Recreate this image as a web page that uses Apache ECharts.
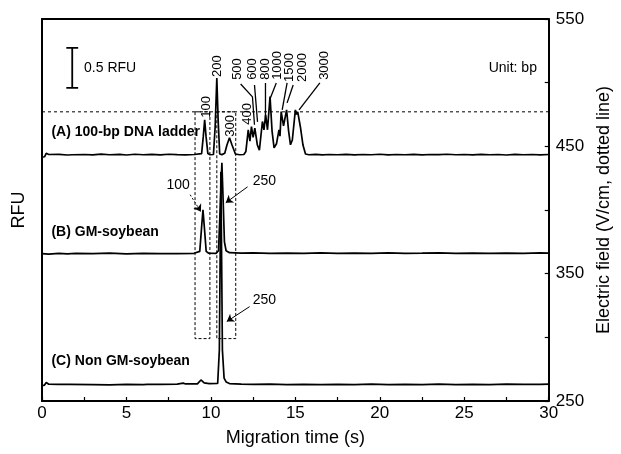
<!DOCTYPE html>
<html><head><meta charset="utf-8">
<script src="https://cdn.jsdelivr.net/npm/echarts@6/dist/echarts.min.js"></script>
<style>html,body{margin:0;padding:0;background:#fff}#c{width:621px;height:454px}</style>
</head><body><div id="c"></div>
<script>
// ---- data (time in s, signal in right-axis units) ----
const traceA = [[0,441.5],[0.15,441.8],[0.25,444.5],[0.4,443.6],[1,443.7],[1.5,443.2],[1.6,444.3],[1.8,443.4],[2.5,443.6],[3,443.3],[3.5,443.9],[4,443.4],[4.6,443.7],[5,443.2],[5.5,443.8],[6,443.4],[6.5,443.7],[7,443.3],[7.5,443.8],[8,443.5],[8.5,443.3],[9,443.6],[9.45,444.3],[9.55,458],[9.63,470.8],[9.71,458],[9.82,444.3],[9.95,443.4],[10.15,443.6],[10.25,465],[10.35,503.7],[10.43,470],[10.52,444],[10.65,443.5],[10.82,444.5],[10.95,451],[11.1,456.7],[11.25,451],[11.45,444],[11.7,443.4],[11.95,443.6],[12.07,446],[12.21,462.9],[12.31,454],[12.4,465.5],[12.5,457],[12.6,464.3],[12.75,451],[12.87,447],[13.05,469.5],[13.14,463],[13.24,474.7],[13.35,463],[13.5,489],[13.62,462],[13.74,448.8],[13.88,452],[14.03,462.9],[14.09,458],[14.16,477.3],[14.3,466],[14.48,478.6],[14.6,462],[14.71,451.2],[14.82,455],[15.0,478.6],[15.07,475],[15.14,477],[15.3,465],[15.45,451],[15.6,444],[15.8,443.4],[16.2,443.7],[16.6,443.3],[17,443.6],[17.5,443.4],[18,443.7],[18.5,443.3],[19,443.6],[19.5,443.4],[20,443.8],[20.5,443.3],[21,443.6],[21.5,443.4],[22,443.7],[22.5,443.3],[23,443.6],[23.5,443.5],[24,443.8],[24.5,443.4],[25,443.6],[25.5,443.3],[26,443.7],[26.5,443.4],[27,443.6],[27.5,443.2],[28,443.7],[28.5,443.4],[29,443.6],[29.5,443.3],[30,443.6]];
const traceB = [[0,365.7],[0.4,365.3],[1,366],[1.5,365.5],[2,365.9],[3,365.7],[4,366.1],[5,365.5],[6,365.9],[7,365.7],[8,365.8],[9,366],[9.34,367.5],[9.44,385],[9.53,400.2],[9.62,385],[9.72,367.5],[9.85,366.2],[10.3,365.9],[10.45,368],[10.56,405],[10.65,437],[10.73,405],[10.8,375],[10.9,368],[11.1,366.5],[11.8,366.1],[12.5,366.3],[13.5,365.9],[14.5,366.2],[15.5,366],[16.5,366.3],[17.5,365.9],[18.5,366.2],[19.5,366],[20.5,366.3],[21.5,365.9],[22.5,366.1],[23.5,366.4],[24.5,366],[25.5,366.2],[26.5,365.9],[27.5,366.2],[28.5,366],[29.5,366.3],[30,366.1]];
const traceC = [[0,262],[0.15,262.5],[0.25,264.5],[0.4,263.2],[1,263],[1.4,263.1],[1.51,264.2],[1.62,263.1],[3,262.9],[4,262.7],[5,263],[6,262.9],[6.11,264.3],[6.22,263.1],[7,263],[8,263.2],[8.36,264],[8.5,263.4],[9.2,263.4],[9.41,266.5],[9.6,264.2],[9.9,263.6],[10.4,263.8],[10.5,290],[10.59,430],[10.68,290],[10.78,268],[10.9,265],[11.1,263.7],[11.8,263.2],[12.5,263],[13.5,263.3],[14.5,262.9],[15.5,263.1],[16.5,262.8],[17.5,263.1],[18.5,262.9],[19.5,263.3],[20.5,262.9],[21.5,263.1],[22.5,262.8],[23.5,263.2],[24.5,262.9],[25.5,263.1],[26.5,262.9],[27.5,263.3],[28.5,263],[29.5,263.1],[30,263.3]];
const fieldLine = [[0,477.1],[30,477.1]];
const boxes = [
  [[9.06,477.1],[9.94,477.1],[9.94,299],[9.06,299],[9.06,477.1]],
  [[10.35,477.1],[11.47,477.1],[11.47,299],[10.35,299],[10.35,477.1]]
];
const ladderLabels = [["100",9.71,472.4],["200",10.41,504.5],["300",11.17,457.5],["400",12.17,466.9],["500",11.58,502.2],["600",12.46,502.2],["800",13.23,502.2],["1000",13.93,502.2],["1500",14.63,500.6],["2000",15.39,500.6],["3000",16.74,502.2]];
const leaders = [
  [[11.76,499],[12.46,488.8],[12.58,466.9]],
  [[12.58,498.2],[12.76,469.2]],
  [[13.23,499.8],[13.23,472.4]],
  [[13.87,499.8],[13.52,488]],
  [[14.51,499.8],[14.22,478.6]],
  [[14.87,498.2],[14.51,484.1]],
  [[16.45,499.8],[15.22,478.6]]
];
const arrows = [
  {coords:[[8.77,412],[9.41,398.6]], dashed:true},
  {coords:[[12.17,418.2],[10.88,405.7]], dashed:false},
  {coords:[[12.29,324.1],[10.94,312.4]], dashed:false}
];
const peakTexts = [["100",8.06,419.8],["250",13.17,422.9],["250",13.17,329.6]];
const traceTitles = [["(A) 100-bp DNA ladder",0.56,461.4],["(B) GM-soybean",0.56,382.9],["(C) Non GM-soybean",0.56,281]];
const scaleBar = [[1.44,527.3],[2.14,527.3],null,[1.79,527.3],[1.79,495.9],null,[1.44,495.9],[2.14,495.9]];
const notes = [["0.5 RFU",2.49,511.6,"left"],["Unit: bp",29.3,511.6,"right"]];
const xTicks = [0,5,10,15,20,25,30];
const rightTicks = [250,350,450,550];

// ---- chart ----
const FONT = "Liberation Sans, Arial, sans-serif";
const chart = echarts.init(document.getElementById('c'), null, {renderer:'canvas'});
const lineBase = {type:'line', showSymbol:false, symbol:'none', silent:true, animation:false, z:3};
const series = [];
[traceA, traceB, traceC].forEach(t => series.push(Object.assign({}, lineBase, {data:t, lineStyle:{color:'#000', width:1.7}})));
series.push(Object.assign({}, lineBase, {data:fieldLine, lineStyle:{color:'#000', width:1, type:[3,3]}}));
boxes.forEach(b => series.push(Object.assign({}, lineBase, {data:b, lineStyle:{color:'#000', width:1, type:[3,2]}})));
leaders.forEach(l => series.push(Object.assign({}, lineBase, {data:l, lineStyle:{color:'#000', width:1.3}})));
series.push(Object.assign({}, lineBase, {data:scaleBar, connectNulls:false, lineStyle:{color:'#000', width:1.8}}));
series.push({
  type:'lines', coordinateSystem:'cartesian2d', silent:true, animation:false, z:4,
  symbol:['none','arrow'], symbolSize:7,
  data: arrows.map(a => ({coords:a.coords, lineStyle:{type: a.dashed ? [2,2] : 'solid', color:'#000', opacity:1, width:1}})),
  lineStyle:{color:'#000', width:1, opacity:1}
});
function textSeries(items, labelFn){
  return {type:'scatter', symbolSize:0, silent:true, animation:false, z:5,
    itemStyle:{color:'#000', opacity:1},
    data: items.map(it => ({value:[it[1], it[2]], label: labelFn(it)})),
    label:{show:true}};
}
const txt = {show:true, position:'inside', color:'#000', opacity:1, fontFamily:FONT, fontSize:14, textBorderWidth:0, textBorderColor:'transparent', textShadowBlur:0};
series.push(textSeries(ladderLabels, it => Object.assign({}, txt, {formatter:it[0], rotate:90, align:'left', verticalAlign:'middle', fontSize:13})));
series.push(textSeries(peakTexts, it => Object.assign({}, txt, {formatter:it[0], align:'center', verticalAlign:'middle'})));
series.push(textSeries(traceTitles, it => Object.assign({}, txt, {formatter:it[0], align:'left', verticalAlign:'middle', fontWeight:'bold'})));
series.push(textSeries(notes, it => Object.assign({}, txt, {formatter:it[0], align:it[3], verticalAlign:'middle'})));

const axisLine = {show:true, onZero:false, lineStyle:{color:'#000', width:2}};
chart.setOption({
  animation:false,
  backgroundColor:'#fff',
  grid:{left:42, right:67, top:19, bottom:53, containLabel:false},
  xAxis:[
    {type:'value', min:0, max:30, interval:5, position:'bottom',
     axisLine, axisTick:{show:true, inside:true, length:4, lineStyle:{color:'#000', width:1.2}},
     minorTick:{show:true, splitNumber:2, length:4, lineStyle:{color:'#000', width:1.2}},
     splitLine:{show:false},
     axisLabel:{color:'#000', fontSize:17, fontFamily:FONT, margin:4,
       formatter: v => xTicks.indexOf(v) >= 0 ? String(v) : ''},
     name:'Migration time (s)', nameLocation:'middle', nameGap:28,
     nameTextStyle:{color:'#000', fontSize:18, fontFamily:FONT}},
    {type:'value', min:0, max:30, position:'top', axisLine,
     axisTick:{show:false}, axisLabel:{show:false}, splitLine:{show:false}}
  ],
  yAxis:[
    {type:'value', min:250, max:550, position:'left', axisLine,
     axisTick:{show:false}, axisLabel:{show:false}, splitLine:{show:false},
     name:'RFU', nameLocation:'middle', nameGap:14, nameRotate:90,
     nameTextStyle:{color:'#000', fontSize:18, fontFamily:FONT}},
    {type:'value', min:250, max:550, interval:100, position:'right', axisLine,
     axisTick:{show:true, inside:true, length:4, lineStyle:{color:'#000', width:1.2}},
     minorTick:{show:true, splitNumber:2, length:4, lineStyle:{color:'#000', width:1.2}},
     splitLine:{show:false},
     axisLabel:{color:'#000', fontSize:17, fontFamily:FONT, margin:7,
       formatter: v => rightTicks.indexOf(v) >= 0 ? String(v) : ''},
     name:'Electric field (V/cm, dotted line)', nameLocation:'middle', nameGap:40, nameRotate:90,
     nameTextStyle:{color:'#000', fontSize:18, fontFamily:FONT}}
  ],
  series
});
</script></body></html>
